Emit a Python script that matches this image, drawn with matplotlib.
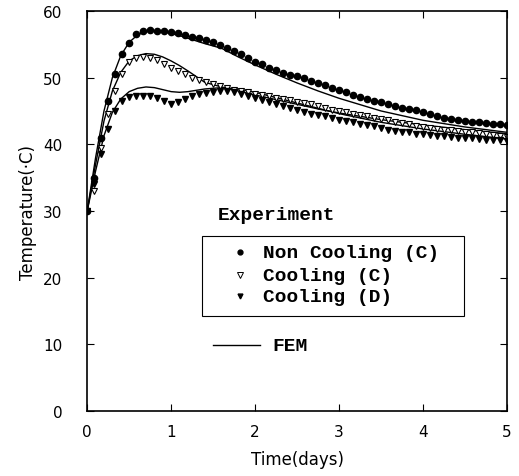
import numpy as np
import matplotlib.pyplot as plt
from matplotlib.patches import Rectangle

# measured temperatures, one reading every 2 hours
hours = np.arange(0, 122, 2)
days = hours / 24.0

non_cooling_c = [30.0, 35.0, 41.0, 46.5, 50.5, 53.5, 55.2, 56.5, 57.0, 57.1,
                 57.0, 57.0, 56.9, 56.7, 56.4, 56.1, 55.9, 55.6, 55.3, 54.9,
                 54.5, 54.0, 53.5, 53.0, 52.4, 52.0, 51.5, 51.1, 50.7, 50.4,
                 50.2, 49.9, 49.5, 49.2, 48.9, 48.5, 48.1, 47.8, 47.4, 47.1,
                 46.8, 46.5, 46.3, 46.1, 45.8, 45.5, 45.3, 45.1, 44.9, 44.6,
                 44.3, 44.0, 43.8, 43.6, 43.5, 43.4, 43.3, 43.2, 43.1, 43.0,
                 42.9]

cooling_c = [30.0, 33.0, 39.5, 44.5, 48.0, 50.5, 52.3, 53.0, 53.1, 52.9,
             52.6, 52.1, 51.5, 51.0, 50.5, 50.0, 49.6, 49.3, 49.0, 48.7,
             48.4, 48.2, 48.0, 47.8, 47.6, 47.4, 47.2, 47.0, 46.8, 46.6,
             46.4, 46.2, 46.0, 45.8, 45.5, 45.2, 45.0, 44.8, 44.6, 44.4,
             44.2, 44.0, 43.8, 43.6, 43.4, 43.2, 43.0, 42.8, 42.6, 42.4,
             42.3, 42.2, 42.1, 42.0, 41.9, 41.8, 41.7, 41.5, 41.4, 41.2,
             41.1]

cooling_d = [30.0, 34.0, 38.5, 42.3, 45.0, 46.5, 47.1, 47.3, 47.3, 47.2,
             47.0, 46.5, 46.0, 46.3, 46.8, 47.2, 47.5, 47.7, 47.9, 48.0,
             48.0, 47.8, 47.5, 47.2, 46.9, 46.6, 46.3, 46.0, 45.7, 45.4,
             45.1, 44.9, 44.6, 44.4, 44.2, 44.0, 43.7, 43.5, 43.3, 43.1,
             42.9, 42.7, 42.4, 42.2, 42.0, 41.9, 41.8, 41.6, 41.5, 41.4,
             41.3, 41.2, 41.1, 41.0, 40.9, 40.9, 40.8, 40.7, 40.6, 40.6,
             40.5]

# FEM results
fem_days = [0, 0.1, 0.2, 0.3, 0.4, 0.5, 0.6, 0.7, 0.8, 0.9, 1.0, 1.1, 1.2,
            1.4, 1.6, 1.8, 2.0, 2.25, 2.5, 2.75, 3.0, 3.5, 4.0, 4.5, 5.0]
fem_non_cooling = [30, 38, 45, 50, 53.3, 55.3, 56.4, 56.9, 57.0, 56.9, 56.6,
                   56.3, 55.9, 55.1, 54.4, 53.1, 51.9, 50.5, 49.2, 48.0,
                   46.9, 45.0, 43.6, 42.6, 41.8]
fem_cooling_c = [30, 37, 43.5, 48, 50.8, 52.5, 53.3, 53.6, 53.5, 53.1, 52.5,
                 51.8, 51.0, 49.3, 48.6, 48.0, 47.4, 46.7, 46.0, 45.3,
                 44.7, 43.7, 42.9, 42.2, 41.6]
fem_cooling_d = [30, 36, 41.3, 44.8, 46.8, 47.9, 48.4, 48.6, 48.5, 48.2, 47.9,
                 47.8, 47.9, 48.3, 48.5, 48.3, 47.8, 47.0, 46.2, 45.4,
                 44.6, 43.3, 42.3, 41.5, 40.8]

labels = ['Non Cooling (C)', 'Cooling (C)', 'Cooling (D)']

fig = plt.figure(figsize=(5.19, 4.77), dpi=100)
ax = fig.add_axes([0.168, 0.136, 0.809, 0.839])

for y in (fem_non_cooling, fem_cooling_c, fem_cooling_d):
    ax.plot(fem_days, y, color='black', lw=1.0)

ax.plot(days, non_cooling_c, 'o', color='black', ms=4.5, ls='none')
ax.plot(days, cooling_c, 'v', mfc='white', mec='black', mew=0.8, ms=5, ls='none')
ax.plot(days, cooling_d, 'v', color='black', ms=4.5, ls='none')

ax.set_xlim(0, 5)
ax.set_ylim(0, 60)
ax.set_xticks(range(0, 6))
ax.set_yticks(range(0, 61, 10))
ax.tick_params(direction='in', top=True, right=True, length=5, labelsize=11)
ax.tick_params(axis='x', pad=9)
ax.tick_params(axis='y', pad=18)
for s in ax.spines.values():
    s.set_linewidth(1.2)
ax.set_xlabel('Time(days)', fontsize=12, labelpad=8)
ax.set_ylabel('Temperature(\u00b7C)', fontsize=12, labelpad=4)

# legend drawn by hand, like the original figure
mono = {'family': 'Liberation Mono', 'weight': 'bold', 'size': 14}
tr = ax.transAxes
ax.text(0.312, 0.4925, 'Experiment', transform=tr, va='center', fontdict=mono)
ax.add_patch(Rectangle((0.274, 0.237), 0.624, 0.201, transform=tr,
                       fill=False, ec='black', lw=0.8))
entry_y = [0.3975, 0.34, 0.2875]
ax.plot(0.364, entry_y[0], 'o', color='black', ms=3.5, transform=tr)
ax.plot(0.364, entry_y[1], 'v', mfc='white', mec='black', mew=0.7, ms=4, transform=tr)
ax.plot(0.364, entry_y[2], 'v', color='black', ms=3.5, transform=tr)
for yy, lab in zip(entry_y, labels):
    ax.text(0.419, yy, lab, transform=tr, va='center', fontdict=mono)
ax.plot([0.30, 0.412], [0.165, 0.165], color='black', lw=1.0, transform=tr)
ax.text(0.44, 0.165, 'FEM', transform=tr, va='center', fontdict=mono)

fig.savefig('out.png', dpi=100)
